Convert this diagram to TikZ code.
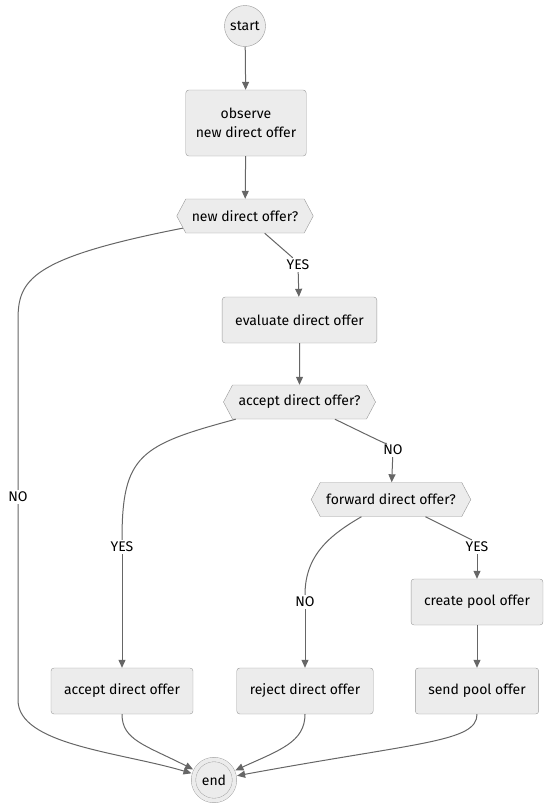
\documentclass[tikz,border=0pt]{standalone}
\usepackage{fontspec}
\setmainfont{Fira Sans}
\usetikzlibrary{arrows.meta,shapes.symbols}

\definecolor{boxfill}{HTML}{ECECEC}
\definecolor{boxline}{HTML}{999999}
\definecolor{edgeline}{HTML}{666666}

\tikzset{
  box/.style={rectangle, rounded corners=3, draw=boxline, fill=boxfill, minimum height=46, inner xsep=13},
  decision/.style={signal, signal to=west and east, signal pointer angle=124, draw=boxline, fill=boxfill, minimum height=34, inner xsep=6},
  term/.style={circle, draw=boxline, fill=boxfill, minimum size=41, inner sep=0},
  stopnode/.style={circle, draw=boxline, fill=boxfill, double=boxfill, double distance=4, minimum size=41, inner sep=0, outer sep=3},
  lbl/.style={inner sep=2},
  line/.style={draw=edgeline, line width=1},
  flow/.style={line, -{Triangle[length=8,width=7]}}
}

\begin{document}
\begin{tikzpicture}[x=1pt, y=1pt, every node/.style={font=\fontsize{14}{19}\selectfont}]
    \useasboundingbox (0,0) rectangle (550,-807);

    \node (start) at (245,-26) [term] {start};
    \node (obs) at (246,-123) [box, align=center, minimum height=66, inner xsep=10] {observe\\new direct offer};
    \node (q1) at (245,-216) [decision] {new direct offer?};
    \node (yes1) at (298,-265) [lbl] {YES};
    \node (eval) at (299.5,-320) [box] {evaluate direct offer};
    \node (q2) at (299.5,-402) [decision] {accept direct offer?};
    \node (no1) at (18,-497) [lbl] {NO};
    \node (no2) at (393,-450) [lbl] {NO};
    \node (yes2) at (122,-547) [lbl] {YES};
    \node (q3) at (391,-499.5) [decision] {forward direct offer?};
    \node (no3) at (305,-602) [lbl] {NO};
    \node (yes3) at (477,-547) [lbl] {YES};
    \node (create) at (477,-602) [box] {create pool offer};
    \node (acc) at (122,-691) [box] {accept direct offer};
    \node (rej) at (305,-691) [box] {reject direct offer};
    \node (send) at (477,-691) [box] {send pool offer};
    \node (stop) at (214,-780) [stopnode] {end};

    \draw[flow] (start) -- (obs);
    \draw[flow] (obs) -- (q1);
    % new direct offer?
    \draw[line] (q1) .. controls (30,-258) and (18,-280) .. (18,-320) -- (no1);
    \draw[flow] (no1) -- (18,-700) .. controls (18,-745) and (120,-752) .. (stop);
    \draw[line] (q1) .. controls (293,-258) .. (yes1);
    \draw[flow] (yes1) -- (eval);
    \draw[flow] (eval) -- (q2);
    % accept direct offer?
    \draw[line] (q2) .. controls (140,-445) and (122,-455) .. (yes2);
    \draw[flow] (yes2) -- (acc);
    \draw[line] (q2) .. controls (388,-445) .. (no2);
    \draw[flow] (no2) -- (q3);
    % forward direct offer?
    \draw[line] (q3) .. controls (330,-535) and (305,-555) .. (no3);
    \draw[flow] (no3) -- (rej);
    \draw[line] (q3) .. controls (472,-540) .. (yes3);
    \draw[flow] (yes3) -- (create);
    \draw[flow] (create) -- (send);
    % to end
    \draw[flow] (acc) .. controls (122,-740) and (145,-745) .. (stop);
    \draw[flow] (rej) .. controls (305,-742) and (280,-750) .. (stop);
    \draw[flow] (send) .. controls (477,-742) and (420,-742) .. (stop);
\end{tikzpicture}
\end{document}
